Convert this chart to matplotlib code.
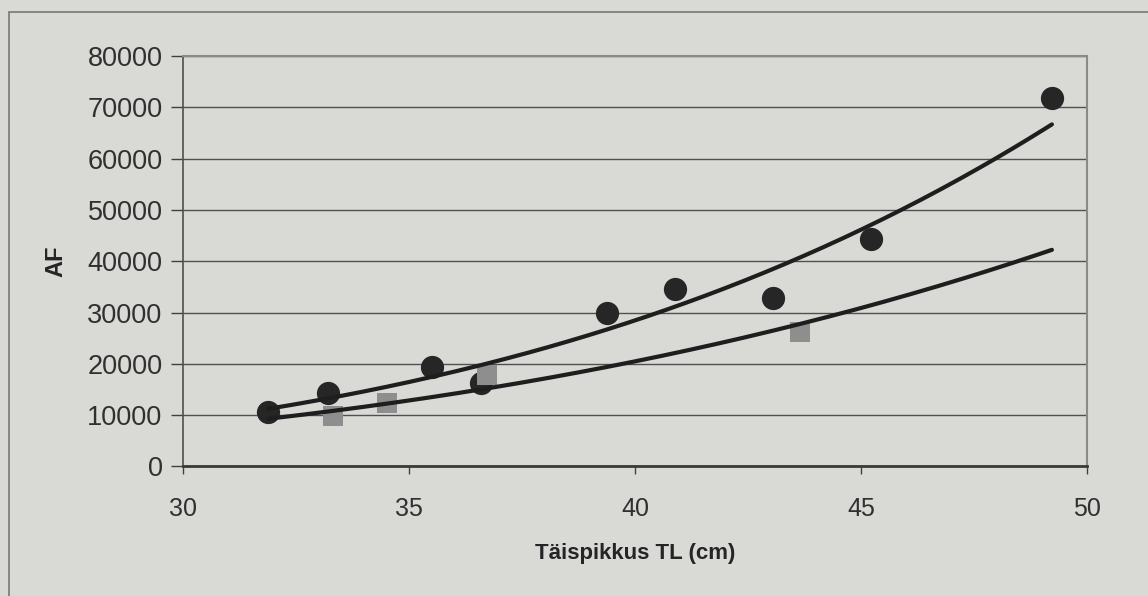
"""Fecundity (AF) against total length (TL) with power-law trend lines."""

import numpy as np
import matplotlib.pyplot as plt
from matplotlib.patches import Rectangle

plt.rcParams["font.family"] = ["Liberation Sans", "DejaVu Sans"]

# circles (darker series)
circle_tl = [31.88, 33.21, 35.51, 36.60, 39.38, 40.88, 43.06, 45.23, 49.23]
circle_af = [10580, 14370, 19360, 16320, 29900, 34580, 32770, 44330, 71750]

# squares (grey series)
square_tl = [33.32, 34.51, 36.72, 43.66]
square_af = [9750, 12340, 17740, 26260]

x_ticks = [30, 35, 40, 45, 50]
y_ticks = list(range(0, 80001, 10000))

BG = "#d9d9d6"


def power_fit(x, y, x_eval):
    slope, intercept = np.polyfit(np.log(x), np.log(y), 1)
    return np.exp(intercept) * np.asarray(x_eval) ** slope


fig = plt.figure(figsize=(11.48, 5.96), dpi=100, facecolor=BG)
fig.patches.append(
    Rectangle((9 / 1148, -0.05), 1.2, 1 - 12 / 596 + 0.05,
              transform=fig.transFigure, fill=False,
              edgecolor="#777777", linewidth=1.2)
)

ax = fig.add_axes([0.1597, 0.2174, 0.7869, 0.6886])
ax.set_facecolor(BG)

ax.scatter(circle_tl, circle_af, s=280, c="#262626", marker="o",
           linewidths=0, zorder=2)
ax.scatter(square_tl, square_af, s=225, c="#8e8e8e", marker="s",
           linewidths=0, zorder=2)

x_line = np.linspace(min(circle_tl), max(circle_tl), 200)
ax.plot(x_line, power_fit(circle_tl, circle_af, x_line), color="#1e1e1e",
        linewidth=3.0, solid_capstyle="round", zorder=3)
ax.plot(x_line, power_fit(square_tl, square_af, x_line), color="#1e1e1e",
        linewidth=3.0, solid_capstyle="round", zorder=3)

ax.set_xlim(30, 50)
ax.set_ylim(0, 80000)
ax.set_xticks(x_ticks)
ax.set_yticks(y_ticks)
ax.yaxis.grid(True, color="#505050", linewidth=1.0)
ax.set_axisbelow(True)

ax.tick_params(axis="both", labelcolor="#303030", color="#404040")
ax.tick_params(axis="x", direction="out", length=6, width=1, pad=16,
               labelsize=18)
ax.tick_params(axis="y", direction="out", length=9, width=1, pad=6,
               labelsize=19.5)

ax.spines["left"].set_color("#505050")
ax.spines["left"].set_linewidth(1.2)
ax.spines["bottom"].set_color("#3a3a3a")
ax.spines["bottom"].set_linewidth(2.0)
for side in ("top", "right"):
    ax.spines[side].set_color("#8a8a8a")
    ax.spines[side].set_linewidth(1.5)

ax.set_xlabel("Täispikkus TL (cm)", fontsize=16, fontweight="bold",
              color="#252525", labelpad=16)
ax.set_ylabel("AF", fontsize=17, fontweight="bold", color="#252525",
              labelpad=14)

fig.savefig("out.png", dpi=100, facecolor=BG)
